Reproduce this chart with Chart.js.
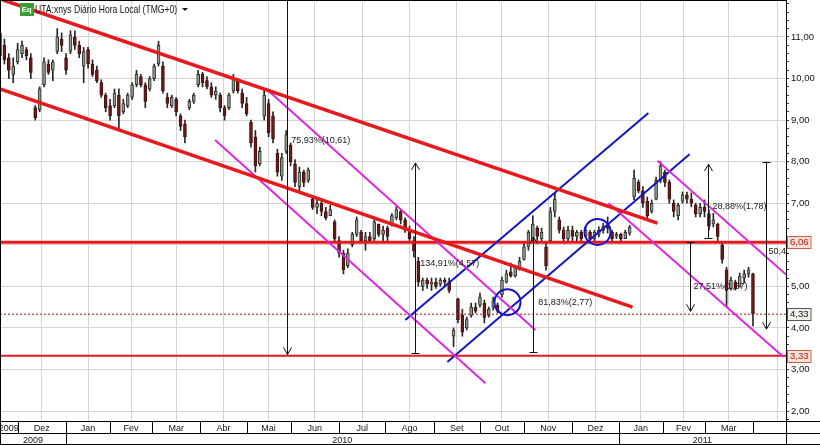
<!DOCTYPE html>
<html lang="pt">
<head>
<meta charset="UTF-8">
<title>UTA:xnys Diário</title>
<script src="https://cdn.jsdelivr.net/npm/chart.js"></script>
<style>
  html, body { margin: 0; padding: 0; background: #fff; }
  #wrap { width: 820px; height: 445px; position: relative; }
</style>
</head>
<body>
<div id="wrap"><canvas id="chart"></canvas></div>
<script>
// x = trading day index (Nov 2009 .. Apr 2011), one candle every 2 days
const dayStep = 2;
const monthStarts = [8, 30, 50, 69, 91, 112, 132, 154, 175, 197, 218, 238, 260, 281, 301, 320, 342];
const monthNames = ['2009', 'Dez', 'Jan', 'Fev', 'Mar', 'Abr', 'Mai', 'Jun', 'Jul', 'Ago', 'Set', 'Out', 'Nov', 'Dez', 'Jan', 'Fev', 'Mar', ''];
const yearStarts = [0, 30, 281];
const yearNames = ['2009', '2010', '2011'];
const xMax = 357;

const opens = [
  11.1, 10.8, 10.5, 10.1, 10.4, 10.6, 10.7, 10.5, 9.3, 9.25, 9.85, 10.35, 10.2, 10.65, 10.95, 10.5, 10.65, 11.0, 10.8, 10.3,
  10.7, 10.35, 10.2, 9.9, 9.6, 9.35, 9.35, 9.6, 9.2, 9.35, 9.55, 9.85, 10.05, 9.85, 9.75, 10.0, 10.35, 10.3, 9.55, 9.35,
  9.5, 9.1, 8.9, 9.3, 9.45, 9.85, 10.1, 9.95, 9.8, 9.6, 9.6, 9.3, 9.3, 9.7, 9.95, 9.65, 9.4, 8.95, 8.6, 7.95,
  9.1, 9.4, 9.1, 8.2, 7.65, 8.25, 8.4, 7.95, 7.4, 7.75, 7.55, 7.1, 6.9, 7.0, 6.8, 6.7, 6.55, 6.1, 5.8, 5.5,
  6.0, 6.25, 6.3, 6.1, 6.2, 6.15, 6.5, 6.25, 6.4, 6.5, 6.65, 6.8, 6.6, 6.35, 6.1, 5.6, 5.0, 5.15, 5.05, 5.1,
  5.05, 5.15, 5.1, 3.8, 4.7, 4.3, 4.0, 4.3, 4.5, 4.55, 4.6, 4.3, 4.5, 4.55, 4.8, 5.1, 5.35, 5.25, 5.4, 5.65,
  5.95, 6.1, 6.4, 6.15, 5.95, 6.1, 6.8, 6.6, 6.35, 6.15, 6.35, 6.2, 6.3, 6.2, 6.3, 6.15, 6.25, 6.35, 6.45, 6.3,
  6.2, 6.25, 6.15, 6.28, 7.15, 7.5, 7.3, 7.05, 6.8, 7.1, 7.55, 7.75, 7.5, 7.0, 6.7, 7.05, 7.2, 7.1, 6.95, 6.75,
  6.9, 6.75, 6.5, 6.5, 6.0, 5.4, 4.95, 5.1, 5.0, 5.2, 5.3, 5.3
];
const highs = [
  11.25, 10.95, 10.6, 10.5, 10.85, 10.9, 10.75, 10.6, 9.35, 9.8, 10.5, 10.45, 10.45, 11.2, 11.1, 10.6, 11.15, 11.15, 10.9, 10.75,
  10.75, 10.45, 10.3, 9.97, 9.65, 9.5, 9.75, 9.75, 9.5, 9.65, 9.9, 10.2, 10.1, 9.9, 10.05, 10.35, 10.9, 10.4, 9.65, 9.6,
  9.55, 9.15, 9.0, 9.5, 9.65, 10.2, 10.15, 10.05, 9.9, 9.8, 9.65, 9.35, 9.65, 10.1, 10.0, 9.75, 9.55, 9.0, 8.75, 8.35,
  9.75, 9.5, 9.2, 8.3, 8.2, 8.75, 8.45, 8.05, 7.87, 7.8, 7.85, 7.15, 7.1, 7.1, 6.9, 6.95, 6.6, 6.2, 5.87, 5.9,
  6.3, 6.67, 6.35, 6.3, 6.3, 6.67, 6.5, 6.45, 6.45, 6.75, 6.92, 6.85, 6.65, 6.45, 6.2, 5.7, 5.2, 5.2, 5.2, 5.2,
  5.2, 5.2, 5.2, 4.0, 4.72, 4.45, 4.26, 4.6, 4.6, 4.84, 4.67, 4.5, 4.74, 4.6, 5.22, 5.39, 5.56, 5.5, 5.7, 6.04,
  6.35, 6.7, 6.45, 6.4, 6.04, 6.9, 7.25, 6.67, 6.43, 6.45, 6.45, 6.35, 6.35, 6.43, 6.35, 6.35, 6.43, 6.52, 6.67, 6.35,
  6.3, 6.28, 6.35, 6.47, 7.8, 7.56, 7.4, 7.15, 7.08, 7.63, 8.0, 7.8, 7.56, 7.08, 7.0, 7.27, 7.27, 7.25, 7.0, 7.0,
  7.08, 6.84, 6.76, 6.52, 6.04, 5.46, 5.22, 5.15, 5.32, 5.39, 5.46, 5.32
];
const lows = [
  10.45, 10.35, 10.0, 9.9, 10.35, 10.5, 10.45, 10.0, 9.0, 9.2, 9.8, 10.1, 9.95, 10.6, 10.65, 10.1, 10.6, 10.7, 10.5, 9.9,
  10.25, 10.05, 9.9, 9.55, 9.2, 9.0, 9.3, 8.75, 9.15, 9.3, 9.5, 9.8, 9.8, 9.3, 9.7, 9.95, 10.3, 9.65, 9.3, 9.3,
  9.1, 8.75, 8.45, 9.25, 9.4, 9.8, 9.8, 9.75, 9.55, 9.5, 9.2, 9.0, 9.25, 9.65, 9.65, 9.3, 9.1, 8.35, 7.75, 7.9,
  9.0, 8.6, 8.45, 7.65, 7.55, 8.2, 7.9, 7.4, 7.3, 7.4, 7.5, 6.85, 6.75, 6.7, 6.6, 6.7, 6.05, 5.7, 5.3, 5.45,
  5.95, 6.2, 6.05, 5.87, 6.05, 6.1, 6.2, 6.1, 6.1, 6.45, 6.6, 6.5, 6.3, 6.05, 5.7, 5.0, 4.9, 4.95, 4.9, 4.95,
  5.0, 5.0, 4.85, 3.55, 4.12, 3.8, 3.95, 4.26, 4.36, 4.5, 4.12, 4.26, 4.43, 4.36, 4.74, 5.08, 5.22, 5.22, 5.39, 5.63,
  5.87, 6.05, 6.1, 6.05, 5.39, 6.04, 6.67, 6.28, 6.04, 6.1, 6.1, 6.1, 6.08, 6.19, 6.1, 6.1, 6.19, 6.28, 6.28, 6.1,
  6.15, 6.1, 6.15, 6.23, 7.08, 7.25, 6.9, 6.6, 6.76, 7.08, 7.49, 7.4, 7.0, 6.67, 6.6, 7.0, 7.0, 6.91, 6.67, 6.67,
  6.67, 6.35, 6.43, 6.1, 5.56, 4.5, 4.91, 4.91, 4.98, 5.08, 5.22, 4.05
];
const closes = [
  10.55, 10.45, 10.2, 10.3, 10.7, 10.8, 10.55, 10.15, 9.05, 9.75, 10.4, 10.15, 10.4, 11.0, 10.8, 10.2, 11.05, 10.8, 10.6, 10.65,
  10.35, 10.1, 9.95, 9.6, 9.3, 9.1, 9.65, 9.1, 9.4, 9.6, 9.85, 10.1, 9.85, 9.45, 10.0, 10.3, 10.8, 9.7, 9.4, 9.55,
  9.2, 8.85, 8.6, 9.45, 9.6, 10.1, 9.9, 9.8, 9.6, 9.7, 9.3, 9.1, 9.6, 10.0, 9.7, 9.4, 9.15, 8.45, 7.9, 8.25,
  9.6, 8.7, 8.55, 7.75, 8.1, 8.65, 8.0, 7.5, 7.75, 7.5, 7.8, 6.9, 7.0, 6.8, 6.65, 6.85, 6.15, 5.8, 5.4, 5.8,
  6.25, 6.6, 6.1, 6.2, 6.1, 6.55, 6.25, 6.35, 6.2, 6.7, 6.85, 6.6, 6.35, 6.15, 5.85, 5.1, 5.15, 5.05, 5.1, 5.0,
  5.15, 5.1, 4.9, 3.95, 4.2, 3.9, 4.2, 4.5, 4.4, 4.75, 4.25, 4.45, 4.65, 4.4, 5.15, 5.3, 5.25, 5.45, 5.6, 5.95,
  6.3, 6.5, 6.2, 6.3, 5.5, 6.8, 7.1, 6.35, 6.15, 6.35, 6.2, 6.3, 6.15, 6.35, 6.15, 6.3, 6.35, 6.45, 6.4, 6.15,
  6.25, 6.15, 6.3, 6.42, 7.6, 7.3, 7.0, 6.7, 7.0, 7.55, 7.9, 7.5, 7.1, 6.8, 6.95, 7.2, 7.1, 7.0, 6.75, 6.9,
  6.8, 6.45, 6.6, 6.2, 5.65, 4.9, 5.15, 4.95, 5.25, 5.3, 5.4, 4.33
];

// drawn studies: [day1, price1, day2, price2]
const redLines = [[1.4, 11.89, 298.6, 6.52], [0, 9.75, 287.3, 4.50]];
const magentaLines = [[120.5, 9.77, 243.2, 3.95], [97.7, 8.52, 220.5, 2.67], [276.4, 7.0, 355.9, 3.30], [298.6, 8.02, 357.3, 5.27]];
const blueLines = [[184.1, 4.19, 294.5, 9.17], [203.2, 3.18, 313.2, 8.18]];
const blueCircles = [[230.5, 4.62], [271.4, 6.31]];
const redLevels = [6.06, 3.33];
const lastPrice = 4.33;
// arrows: [day, fromPrice, toPrice]
const arrows = [[130.5, 13.97, 3.36], [188.6, 3.40, 7.97], [242.3, 3.42, 6.19], [321.4, 6.16, 7.94], [313.6, 6.07, 4.40], [347.7, 8.00, 3.97]];
const arrowLabels = ['75,93%(10,61)', '134,91%(4,57)', '81,83%(2,77)', '28,88%(1,78)', '27,51%(1,67)', '50,42%(4,03)'];
const labelPos = [[132.3, 8.52], [190.9, 5.54], [244.5, 4.62], [323.6, 6.91], [315.0, 5.00], [349.0, 5.85]];
const priceTags = [[6.06, 'red'], [4.33, 'dark'], [3.33, 'red']];

const FONT = '"Liberation Sans", Arial, sans-serif';
const yMin = 1.76, yMax = 11.89;
const yTicks = [];
for (let v = 18; v <= 118; v += 2) yTicks.push(v / 10);

const mids = (starts, end) => starts.map((s, i) => (s + (i + 1 < starts.length ? starts[i + 1] : end)) / 2);
const monthMids = mids([0].concat(monthStarts), xMax);
const yearMids = mids(yearStarts, xMax);

function segDataset(seg, color, width) {
  return {
    type: 'line', order: 2,
    data: [{ x: seg[0], y: seg[1] }, { x: seg[2], y: seg[3] }],
    borderColor: color, borderWidth: width, pointRadius: 0, tension: 0, fill: false
  };
}

const datasets = [];
// candle wicks and bodies
datasets.push({
  type: 'bar', order: 10, grouped: false,
  data: highs.map((h, i) => ({ x: i * dayStep, y: [lows[i], h] })),
  backgroundColor: '#262626', borderWidth: 0, barThickness: 1
});
datasets.push({
  type: 'bar', order: 9, grouped: false,
  data: opens.map((o, i) => ({ x: i * dayStep, y: [Math.min(o, closes[i]), Math.max(o, closes[i])] })),
  backgroundColor: c => closes[c.dataIndex] >= opens[c.dataIndex] ? '#8e9c8a' : '#6f1a1a',
  borderColor: c => closes[c.dataIndex] >= opens[c.dataIndex] ? '#2e332d' : '#401010',
  borderWidth: 1, borderSkipped: false, barThickness: 3, minBarLength: 2
});
redLines.forEach(s => datasets.push(segDataset(s, '#e8191c', 3.5)));
magentaLines.forEach(s => datasets.push(segDataset(s, '#dc28dc', 2)));
blueLines.forEach(s => datasets.push(segDataset(s, '#1414c4', 2)));
datasets.push(segDataset([0, redLevels[0], xMax, redLevels[0]], '#e8191c', 3));
datasets.push(segDataset([0, redLevels[1], xMax, redLevels[1]], '#e8191c', 2));
datasets.push(Object.assign(segDataset([0, lastPrice, xMax, lastPrice], '#a01818', 1), { borderDash: [2, 2] }));
datasets.push({
  type: 'line', order: 1, showLine: false,
  data: blueCircles.map(c => ({ x: c[0], y: c[1] })),
  pointRadius: 13, pointBackgroundColor: 'rgba(0,0,0,0)', pointBorderColor: '#1414c4', pointBorderWidth: 2
});

const noPad = s => { s.paddingLeft = 0; s.paddingRight = 0; s.paddingTop = 0; s.paddingBottom = 0; };

const studies = {
  id: 'studies',
  afterDatasetsDraw(chart) {
    const { ctx, chartArea: a, scales: { x, y } } = chart;
    ctx.save();
    ctx.beginPath();
    ctx.rect(a.left, a.top, a.right - a.left, a.bottom - a.top);
    ctx.clip();
    ctx.strokeStyle = '#111';
    ctx.lineWidth = 1;
    arrows.forEach(ar => {
      const px = Math.round(x.getPixelForValue(ar[0])) + 0.5;
      const y1 = y.getPixelForValue(ar[1]);
      const y2 = y.getPixelForValue(ar[2]);
      const dir = y2 > y1 ? 1 : -1;
      ctx.beginPath();
      ctx.moveTo(px, y1); ctx.lineTo(px, y2);
      ctx.moveTo(px - 4, y2 - dir * 7); ctx.lineTo(px, y2); ctx.lineTo(px + 4, y2 - dir * 7);
      ctx.moveTo(px - 4, Math.round(y1) + 0.5); ctx.lineTo(px + 4, Math.round(y1) + 0.5);
      ctx.stroke();
    });
    ctx.fillStyle = '#1a1a1a';
    ctx.font = '9px ' + FONT;
    ctx.textBaseline = 'middle';
    ctx.textAlign = 'left';
    arrowLabels.forEach((t, i) => {
      ctx.fillText(t, x.getPixelForValue(labelPos[i][0]), y.getPixelForValue(labelPos[i][1]));
    });
    ctx.restore();
  },
  afterDraw(chart) {
    const { ctx, chartArea: a, scales: { x, y } } = chart;
    const W = chart.width, H = chart.height;
    const mid = a.bottom + 12;
    ctx.save();
    // frame and bottom table
    ctx.strokeStyle = '#000';
    ctx.lineWidth = 1;
    ctx.beginPath();
    ctx.moveTo(0.5, 0); ctx.lineTo(0.5, H);
    ctx.moveTo(0, 0.5); ctx.lineTo(a.right, 0.5);
    ctx.moveTo(0, a.bottom + 0.5); ctx.lineTo(W, a.bottom + 0.5);
    ctx.moveTo(0, mid + 0.5); ctx.lineTo(W, mid + 0.5);
    ctx.moveTo(0, H - 0.5); ctx.lineTo(W, H - 0.5);
    ctx.moveTo(a.right + 0.5, 0); ctx.lineTo(a.right + 0.5, H);
    monthStarts.forEach(d => {
      const px = Math.round(x.getPixelForValue(d)) + 0.5;
      ctx.moveTo(px, a.bottom); ctx.lineTo(px, mid);
    });
    yearStarts.slice(1).forEach(d => {
      const px = Math.round(x.getPixelForValue(d)) + 0.5;
      ctx.moveTo(px, mid); ctx.lineTo(px, H);
    });
    ctx.stroke();
    // price tags on the axis
    ctx.font = '9.5px ' + FONT;
    ctx.textBaseline = 'middle';
    ctx.textAlign = 'left';
    priceTags.forEach(t => {
      const py = Math.round(y.getPixelForValue(t[0]));
      const red = t[1] === 'red';
      const label = t[0].toFixed(2).replace('.', ',');
      const w = ctx.measureText(label).width + 5;
      ctx.fillStyle = red ? '#fbe0d6' : '#f2f2ec';
      ctx.strokeStyle = red ? '#d8584a' : '#555';
      ctx.fillRect(a.right + 1, py - 6, w, 12);
      ctx.strokeRect(a.right + 1.5, py - 5.5, w, 12);
      ctx.fillStyle = red ? '#b01c1c' : '#111';
      ctx.fillText(label, a.right + 4, py + 0.5);
    });
    // title
    ctx.fillStyle = '#3c9c34';
    ctx.fillRect(20, 3, 14, 13);
    ctx.fillStyle = '#fff';
    ctx.font = 'bold 8px ' + FONT;
    ctx.fillText('Eq', 21.5, 10);
    ctx.fillStyle = '#111';
    ctx.font = '11px ' + FONT;
    ctx.save();
    ctx.translate(35, 10);
    ctx.scale(0.78, 1);
    ctx.fillText('UTA:xnys Diário Hora Local (TMG+0)', 0, 0);
    ctx.restore();
    ctx.beginPath();
    ctx.moveTo(182, 8); ctx.lineTo(188, 8); ctx.lineTo(185, 11); ctx.closePath();
    ctx.fill();
    ctx.restore();
  }
};

new Chart(document.getElementById('chart'), {
  type: 'bar',
  data: { datasets },
  options: {
    responsive: true,
    maintainAspectRatio: false,
    animation: false,
    layout: { padding: 0, autoPadding: false },
    plugins: { legend: { display: false }, tooltip: { enabled: false } },
    scales: {
      x: {
        type: 'linear', min: 0, max: xMax, offset: false, weight: 0, position: 'bottom',
        afterBuildTicks: s => { s.ticks = monthStarts.map(v => ({ value: v })); },
        afterFit: s => { s.height = 0; noPad(s); },
        ticks: { display: false },
        grid: { color: '#d4d4d4', drawTicks: false },
        border: { display: false }
      },
      xm: {
        type: 'linear', min: 0, max: xMax, offset: false, weight: 1, position: 'bottom',
        afterBuildTicks: s => { s.ticks = monthMids.map(v => ({ value: v })); },
        afterFit: s => { s.height = 12; noPad(s); },
        ticks: { autoSkip: false, maxRotation: 0, padding: 2, color: '#111', font: { family: FONT, size: 9 },
                 callback: (v, i) => monthNames[i] },
        grid: { display: false, drawTicks: false },
        border: { display: false }
      },
      xy: {
        type: 'linear', min: 0, max: xMax, offset: false, weight: 2, position: 'bottom',
        afterBuildTicks: s => { s.ticks = yearMids.map(v => ({ value: v })); },
        afterFit: s => { s.height = 12; noPad(s); },
        ticks: { autoSkip: false, maxRotation: 0, padding: 2, color: '#111', font: { family: FONT, size: 9 },
                 callback: (v, i) => yearNames[i] },
        grid: { display: false, drawTicks: false },
        border: { display: false }
      },
      y: {
        type: 'linear', position: 'right', min: yMin, max: yMax,
        afterBuildTicks: s => { s.ticks = yTicks.map(v => ({ value: v })); },
        afterFit: s => { s.width = 34; noPad(s); },
        ticks: {
          autoSkip: false, padding: 2, color: '#111', font: { family: FONT, size: 9.5 },
          callback: v => Math.abs(v - Math.round(v)) < 1e-6 ? v.toFixed(2).replace('.', ',') : ''
        },
        grid: {
          color: c => (c.tick && Math.abs(c.tick.value - Math.round(c.tick.value)) < 1e-6) ? '#d4d4d4' : 'rgba(0,0,0,0)',
          tickColor: '#333', tickLength: 3
        },
        border: { display: true, color: '#000' }
      }
    }
  },
  plugins: [studies]
});
</script>
</body>
</html>
